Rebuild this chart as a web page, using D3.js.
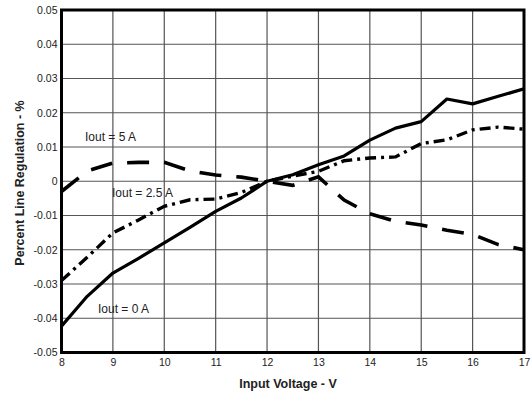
<!DOCTYPE html>
<html><head><meta charset="utf-8">
<script src="https://cdn.jsdelivr.net/npm/d3@7"></script>
<style>body{margin:0;background:#fff}svg{display:block}text{font-family:Arial,"Liberation Sans",sans-serif}</style>
</head><body><svg id="c" width="531" height="394"></svg>
<script>
const voltages = [8,8.5,9,9.5,10,10.5,11,11.5,12,12.5,13,13.5,14,14.5,15,15.5,16,16.5,17];
const iout0 = [-0.0423,-0.0336,-0.0268,-0.0225,-0.018,-0.0135,-0.0088,-0.0049,0,0.0019,0.0048,0.0074,0.012,0.0155,0.0174,0.024,0.0226,0.0248,0.027];
const iout25 = [-0.029,-0.0222,-0.0151,-0.0113,-0.0073,-0.0054,-0.0052,-0.0033,0,0.0015,0.0029,0.006,0.0068,0.0071,0.011,0.0121,0.015,0.0158,0.0152];
const iout5 = [-0.003,0.003,0.0053,0.0055,0.0055,0.003,0.0018,0.0012,0,-0.0012,0.0013,-0.0055,-0.0095,-0.0117,-0.0128,-0.0143,-0.0155,-0.0185,-0.02];
const xTicks = [8,9,10,11,12,13,14,15,16,17];
const yTicks = [-0.05,-0.04,-0.03,-0.02,-0.01,0,0.01,0.02,0.03,0.04,0.05];
const yTickLabels = ["-0.05","-0.04","-0.03","-0.02","-0.01","0","0.01","0.02","0.03","0.04","0.05"];
const seriesLabels = ["Iout = 0 A","Iout = 2.5 A","Iout = 5 A"];

const svg = d3.select("#c");
const L=61.5, R=524, T=10, B=352.5;
const x = d3.scaleLinear().domain([8,17]).range([L,R]);
const y = d3.scaleLinear().domain([-0.05,0.05]).range([B,T]);

// grid
const g = svg.append("g");
g.selectAll(".vx").data(xTicks).join("line")
  .attr("x1",d=>x(d)).attr("x2",d=>x(d)).attr("y1",T).attr("y2",B)
  .attr("stroke","#555").attr("stroke-width",1.2);
g.selectAll(".hy").data(yTicks).join("line")
  .attr("y1",d=>y(d)).attr("y2",d=>y(d)).attr("x1",L).attr("x2",R)
  .attr("stroke","#555").attr("stroke-width",1.2);

// axes labels via d3 axes
const xAxis = d3.axisBottom(x).tickValues(xTicks).tickSize(0).tickPadding(6).tickFormat(d3.format("d"));
const xa = svg.append("g").attr("transform",`translate(0,${B})`).call(xAxis);
xa.select(".domain").remove();
xa.selectAll("text").attr("font-size",10.5).attr("fill","#222").attr("font-family","Arial, 'Liberation Sans', sans-serif");
const yAxis = d3.axisLeft(y).tickValues(yTicks).tickSize(0).tickPadding(4).tickFormat((d,i)=>yTickLabels[i]);
const ya = svg.append("g").attr("transform",`translate(${L},0)`).call(yAxis);
ya.select(".domain").remove();
ya.selectAll("text").attr("font-size",10.5).attr("fill","#222").attr("font-family","Arial, 'Liberation Sans', sans-serif");

// lines
const line = d3.line().x((d,i)=>x(voltages[i])).y(d=>y(d));
const clip = svg.append("clipPath").attr("id","pc").append("rect").attr("x",L).attr("y",T).attr("width",R-L).attr("height",B-T);
const lg = svg.append("g").attr("clip-path","url(#pc)");
lg.append("path").datum(iout0).attr("d",line).attr("fill","none").attr("stroke","#000").attr("stroke-width",3.2).attr("stroke-linejoin","round");
lg.append("path").datum(iout25).attr("d",line).attr("fill","none").attr("stroke","#000").attr("stroke-width",3.4).attr("stroke-dasharray","11,5,3,5");
lg.append("path").datum(iout5).attr("d",line).attr("fill","none").attr("stroke","#000").attr("stroke-width",3.6).attr("stroke-dasharray","22,15");

// border
svg.append("rect").attr("x",L).attr("y",T).attr("width",R-L).attr("height",B-T)
  .attr("fill","none").attr("stroke","#000").attr("stroke-width",3);

// series labels
const lab = [[98,313,0],[112,197,1],[85,141,2]];
svg.selectAll(".sl").data(lab).join("text")
  .attr("x",d=>d[0]).attr("y",d=>d[1]).text(d=>seriesLabels[d[2]])
  .attr("font-size",12).attr("fill","#222");

// axis titles
svg.append("text").attr("x",288).attr("y",388).attr("text-anchor","middle")
  .attr("font-size",12.5).attr("font-weight","bold").attr("fill","#222").text("Input Voltage - V");
svg.append("text").attr("transform","translate(24,183) rotate(-90)").attr("text-anchor","middle")
  .attr("font-size",12.5).attr("font-weight","bold").attr("fill","#222").text("Percent Line Regulation - %");
</script></body></html>
